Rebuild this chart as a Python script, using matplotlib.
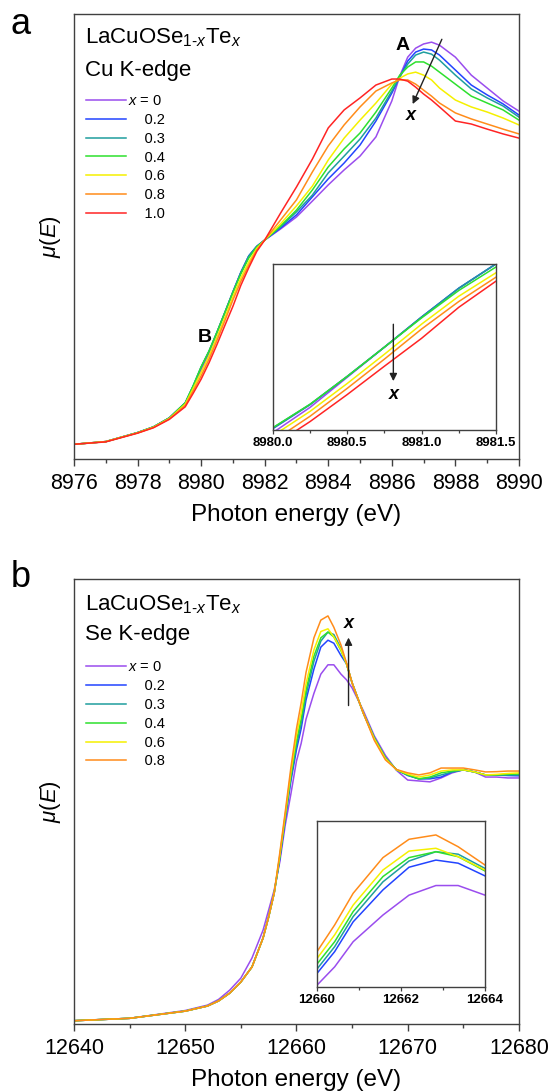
import matplotlib
matplotlib.use("Agg")
import matplotlib.pyplot as plt
from matplotlib.ticker import MultipleLocator, FormatStrFormatter

plt.rcParams["font.family"] = ["Liberation Sans", "DejaVu Sans"]
plt.rcParams["mathtext.fontset"] = "custom"
plt.rcParams["mathtext.rm"] = "Liberation Sans"
plt.rcParams["mathtext.it"] = "Liberation Sans:italic"
plt.rcParams["mathtext.bf"] = "Liberation Sans:bold"


# Te content x in LaCuOSe(1-x)Te(x), one colour per sample
X_VALUES = ["0", "0.2", "0.3", "0.4", "0.6", "0.8", "1.0"]
COLORS = ["#9a4dee", "#2244ff", "#1f9e9e", "#2ee02e", "#f5f000", "#ff8c1a", "#ff2424"]

# ---- Cu K-edge (normalised mu(E)) ----
E_CU = [8976.0, 8977.0, 8978.0, 8978.5, 8979.0, 8979.5, 8979.75, 8980.0, 8980.25,
        8980.5, 8980.75, 8981.0, 8981.25, 8981.5, 8981.75, 8982.0, 8982.5, 8983.0,
        8983.5, 8984.0, 8984.5, 8985.0, 8985.5, 8986.0, 8986.25, 8986.5, 8986.75,
        8987.0, 8987.25, 8987.5, 8988.0, 8988.5, 8989.0, 8989.5, 8990.0]
CU_X00 = [0.002, 0.011, 0.041, 0.060, 0.090, 0.140, 0.192, 0.249, 0.306, 0.374, 0.442,
          0.510, 0.575, 0.630, 0.662, 0.683, 0.720, 0.760, 0.813, 0.867, 0.917, 0.963,
          1.027, 1.147, 1.230, 1.293, 1.323, 1.337, 1.343, 1.333, 1.293, 1.233, 1.190,
          1.147, 1.113]
CU_X02 = [0.002, 0.011, 0.041, 0.060, 0.090, 0.140, 0.196, 0.258, 0.312, 0.376, 0.442,
          0.510, 0.575, 0.630, 0.662, 0.683, 0.723, 0.767, 0.827, 0.887, 0.940, 1.000,
          1.080, 1.173, 1.227, 1.280, 1.310, 1.320, 1.317, 1.300, 1.250, 1.200, 1.167,
          1.137, 1.100]
CU_X03 = [0.002, 0.011, 0.041, 0.060, 0.090, 0.140, 0.197, 0.260, 0.313, 0.376, 0.442,
          0.510, 0.575, 0.630, 0.662, 0.683, 0.727, 0.777, 0.833, 0.907, 0.963, 1.020,
          1.090, 1.180, 1.227, 1.270, 1.300, 1.310, 1.303, 1.283, 1.233, 1.187, 1.157,
          1.130, 1.093]
CU_X04 = [0.002, 0.011, 0.041, 0.060, 0.090, 0.140, 0.197, 0.260, 0.313, 0.376, 0.442,
          0.508, 0.570, 0.623, 0.660, 0.683, 0.730, 0.783, 0.850, 0.927, 0.987, 1.040,
          1.110, 1.190, 1.233, 1.260, 1.277, 1.277, 1.263, 1.243, 1.203, 1.163, 1.140,
          1.117, 1.083]
CU_X06 = [0.002, 0.011, 0.040, 0.059, 0.088, 0.136, 0.188, 0.242, 0.297, 0.360, 0.426,
          0.494, 0.557, 0.610, 0.655, 0.683, 0.737, 0.797, 0.863, 0.950, 1.023, 1.083,
          1.140, 1.203, 1.223, 1.237, 1.243, 1.233, 1.217, 1.190, 1.150, 1.127, 1.110,
          1.090, 1.067]
CU_X08 = [0.002, 0.011, 0.040, 0.058, 0.087, 0.132, 0.180, 0.230, 0.286, 0.349, 0.415,
          0.483, 0.545, 0.600, 0.650, 0.683, 0.750, 0.817, 0.910, 0.997, 1.067, 1.127,
          1.180, 1.207, 1.217, 1.217, 1.203, 1.183, 1.163, 1.140, 1.107, 1.087, 1.070,
          1.053, 1.037]
CU_X10 = [0.002, 0.010, 0.039, 0.057, 0.085, 0.127, 0.172, 0.219, 0.274, 0.335, 0.399,
          0.462, 0.532, 0.591, 0.645, 0.683, 0.773, 0.860, 0.953, 1.057, 1.117, 1.157,
          1.200, 1.220, 1.220, 1.213, 1.193, 1.170, 1.150, 1.127, 1.080, 1.070, 1.053,
          1.037, 1.023]

# ---- Se K-edge (normalised mu(E)), no x = 1.0 sample ----
E_SE = [12640.0, 12645.0, 12650.0, 12652.0, 12653.0, 12654.0, 12655.0, 12656.0, 12657.0,
        12657.5, 12658.0, 12658.5, 12659.0, 12659.5, 12660.0, 12660.42, 12660.86, 12661.57,
        12662.19, 12662.83, 12663.36, 12664.0, 12664.5, 12665.0, 12666.0, 12667.0, 12668.0,
        12669.0, 12670.0, 12671.0, 12672.0, 12673.0, 12674.0, 12675.0, 12676.0, 12677.0,
        12678.0, 12679.0, 12680.0]
SE_X00 = [0.001, 0.009, 0.035, 0.053, 0.072, 0.103, 0.143, 0.210, 0.303, 0.370, 0.437,
          0.530, 0.655, 0.757, 0.866, 0.925, 1.006, 1.092, 1.156, 1.187, 1.187, 1.156,
          1.137, 1.110, 1.035, 0.950, 0.885, 0.835, 0.803, 0.800, 0.797, 0.810, 0.827,
          0.837, 0.830, 0.813, 0.813, 0.810, 0.810]
SE_X02 = [0.001, 0.009, 0.033, 0.050, 0.067, 0.093, 0.130, 0.180, 0.277, 0.347, 0.427,
          0.540, 0.675, 0.800, 0.904, 0.974, 1.070, 1.173, 1.246, 1.269, 1.259, 1.218,
          1.190, 1.127, 1.027, 0.943, 0.877, 0.837, 0.818, 0.807, 0.807, 0.813, 0.830,
          0.837, 0.830, 0.820, 0.820, 0.818, 0.817]
SE_X03 = [0.001, 0.009, 0.033, 0.050, 0.067, 0.093, 0.130, 0.180, 0.277, 0.347, 0.427,
          0.545, 0.680, 0.810, 0.918, 0.990, 1.087, 1.199, 1.266, 1.296, 1.288, 1.242,
          1.190, 1.127, 1.027, 0.943, 0.877, 0.837, 0.820, 0.807, 0.810, 0.820, 0.830,
          0.837, 0.830, 0.820, 0.820, 0.820, 0.820]
SE_X04 = [0.001, 0.009, 0.033, 0.050, 0.067, 0.093, 0.130, 0.180, 0.277, 0.347, 0.427,
          0.548, 0.685, 0.820, 0.934, 1.006, 1.103, 1.216, 1.277, 1.296, 1.280, 1.234,
          1.190, 1.127, 1.027, 0.943, 0.877, 0.837, 0.820, 0.807, 0.813, 0.827, 0.833,
          0.837, 0.830, 0.820, 0.820, 0.822, 0.823]
SE_X06 = [0.001, 0.009, 0.033, 0.050, 0.067, 0.093, 0.130, 0.180, 0.277, 0.347, 0.427,
          0.552, 0.690, 0.830, 0.952, 1.028, 1.124, 1.237, 1.298, 1.307, 1.280, 1.237,
          1.190, 1.127, 1.027, 0.940, 0.874, 0.837, 0.823, 0.813, 0.820, 0.833, 0.837,
          0.837, 0.830, 0.820, 0.822, 0.825, 0.827]
SE_X08 = [0.001, 0.009, 0.033, 0.050, 0.067, 0.093, 0.130, 0.180, 0.277, 0.347, 0.427,
          0.560, 0.700, 0.845, 0.974, 1.060, 1.162, 1.277, 1.336, 1.350, 1.312, 1.253,
          1.193, 1.127, 1.027, 0.935, 0.870, 0.838, 0.827, 0.820, 0.827, 0.843, 0.843,
          0.843, 0.837, 0.830, 0.831, 0.833, 0.833]

CU_CURVES = [CU_X00, CU_X02, CU_X03, CU_X04, CU_X06, CU_X08, CU_X10]
SE_CURVES = [SE_X00, SE_X02, SE_X03, SE_X04, SE_X06, SE_X08]

SPINE = "#404040"


def legend_labels(n):
    labels = [r"$x$ = 0"]
    for val in X_VALUES[1:n]:
        labels.append("    " + val)
    return labels


def style_main(ax, xlim, ylim, major, minor):
    ax.set_xlim(*xlim)
    ax.set_ylim(*ylim)
    ax.set_yticks([])
    ax.xaxis.set_major_locator(MultipleLocator(major))
    ax.xaxis.set_minor_locator(MultipleLocator(minor))
    ax.tick_params(axis="x", which="major", direction="out", length=5, width=1.0,
                   labelsize=15.5, pad=5, color=SPINE)
    ax.tick_params(axis="x", which="minor", direction="out", length=3, width=1.0,
                   color=SPINE)
    for sp in ax.spines.values():
        sp.set_color(SPINE)
        sp.set_linewidth(1.0)
    ax.set_xlabel("Photon energy (eV)", fontsize=17.5, labelpad=7)
    ax.set_ylabel(r"$\mu$($E$)", fontsize=16, labelpad=8)


def style_inset(ax, xlim, ylim, major, minor, fmt):
    ax.set_xlim(*xlim)
    ax.set_ylim(*ylim)
    ax.set_yticks([])
    ax.xaxis.set_major_locator(MultipleLocator(major))
    ax.xaxis.set_minor_locator(MultipleLocator(minor))
    ax.xaxis.set_major_formatter(FormatStrFormatter(fmt))
    ax.tick_params(axis="x", which="major", direction="out", length=3, width=0.9,
                   labelsize=9.5, pad=2, color=SPINE)
    ax.tick_params(axis="x", which="minor", direction="out", length=2, width=0.9,
                   color=SPINE)
    for lab in ax.get_xticklabels():
        lab.set_fontweight("bold")
    for sp in ax.spines.values():
        sp.set_color(SPINE)
        sp.set_linewidth(1.0)


def draw_curves(ax, energy, curves, with_labels):
    labels = legend_labels(len(curves))
    for mu, color, lab in zip(curves, COLORS, labels):
        ax.plot(energy, mu, color=color, lw=1.1, label=lab if with_labels else None)


def add_legend(ax, y_top):
    ax.legend(loc="upper left", bbox_to_anchor=(0.027, y_top), frameon=False,
              fontsize=10.5, handlelength=2.75, handletextpad=0.15, labelspacing=0.33,
              borderpad=0, borderaxespad=0)


fig = plt.figure(figsize=(5.48, 10.91), dpi=100)

# ---------------- panel a: Cu K-edge ----------------
ax_a = fig.add_axes([0.135, 0.5793, 0.812, 0.4079])
draw_curves(ax_a, E_CU, CU_CURVES, True)
style_main(ax_a, (8976, 8990), (-0.047, 1.437), 2, 1)
ax_a.text(0.025, 0.934, r"LaCuOSe$_{1\text{-}x}$Te$_{x}$", transform=ax_a.transAxes,
          fontsize=16, va="baseline", ha="left")
ax_a.text(0.025, 0.861, "Cu K-edge", transform=ax_a.transAxes, fontsize=16,
          va="baseline", ha="left")
add_legend(ax_a, 0.820)
ax_a.text(8986.35, 1.333, "A", fontsize=14, fontweight="bold", ha="center", va="center")
ax_a.text(8980.11, 0.357, "B", fontsize=14, fontweight="bold", ha="center", va="center")
ax_a.annotate("", xy=(8986.62, 1.128), xytext=(8987.61, 1.361),
              arrowprops=dict(arrowstyle="-|>", color="#222222", lw=1.0, mutation_scale=11))
ax_a.text(8986.59, 1.10, "x", fontsize=13, fontstyle="italic", fontweight="bold",
          ha="center", va="center")

ins_a = fig.add_axes([0.498, 0.6059, 0.407, 0.1522])
draw_curves(ins_a, E_CU, CU_CURVES, False)
style_inset(ins_a, (8980.0, 8981.5), (0.255, 0.630), 0.5, 0.25, "%.1f")
ins_a.annotate("", xy=(8980.81, 0.359), xytext=(8980.81, 0.500),
               arrowprops=dict(arrowstyle="-|>", color="#222222", lw=1.0, mutation_scale=11))
ins_a.text(8980.81, 0.334, "x", fontsize=13, fontstyle="italic", fontweight="bold",
           ha="center", va="center")

fig.text(0.037, 0.978, "a", fontsize=26, ha="center", va="center")

# ---------------- panel b: Se K-edge ----------------
ax_b = fig.add_axes([0.135, 0.0614, 0.812, 0.4079])
draw_curves(ax_b, E_SE, SE_CURVES, True)
style_main(ax_b, (12640, 12680), (-0.010, 1.473), 10, 5)
ax_b.text(0.025, 0.930, r"LaCuOSe$_{1\text{-}x}$Te$_{x}$", transform=ax_b.transAxes,
          fontsize=16, va="baseline", ha="left")
ax_b.text(0.025, 0.863, "Se K-edge", transform=ax_b.transAxes, fontsize=16,
          va="baseline", ha="left")
add_legend(ax_b, 0.817)
ax_b.annotate("", xy=(12664.68, 1.287), xytext=(12664.68, 1.042),
              arrowprops=dict(arrowstyle="-|>", color="#222222", lw=1.0, mutation_scale=11))
ax_b.text(12664.68, 1.325, "x", fontsize=13, fontstyle="italic", fontweight="bold",
          ha="center", va="center")

ins_b = fig.add_axes([0.5785, 0.0953, 0.3066, 0.1522])
draw_curves(ins_b, E_SE, SE_CURVES, False)
style_inset(ins_b, (12660, 12664), (0.860, 1.395), 2, 1, "%d")

fig.text(0.038, 0.471, "b", fontsize=26, ha="center", va="center")

fig.savefig("out.png", dpi=100)
plt.close(fig)
